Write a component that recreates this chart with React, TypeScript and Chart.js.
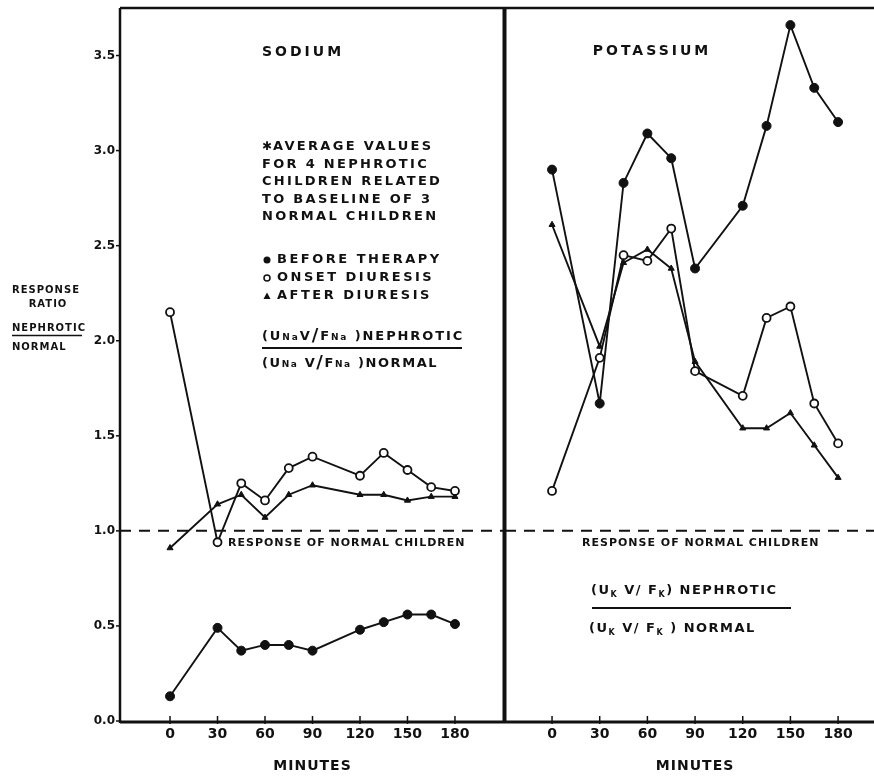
import React, { useEffect, useRef } from "react";
import { Chart, registerables } from "chart.js";

Chart.register(...registerables);

// ---- data ----
const minutes = [0, 30, 45, 60, 75, 90, 120, 135, 150, 165, 180];
const xTickValues = [0, 30, 60, 90, 120, 150, 180];
const yTickValues = [0, 0.5, 1, 1.5, 2, 2.5, 3, 3.5];
const normalResponse = 1.0;

const sodiumBefore = [0.13, 0.49, 0.37, 0.40, 0.40, 0.37, 0.48, 0.52, 0.56, 0.56, 0.51];
const sodiumOnset = [2.15, 0.94, 1.25, 1.16, 1.33, 1.39, 1.29, 1.41, 1.32, 1.23, 1.21];
const sodiumAfter = [0.91, 1.14, 1.19, 1.07, 1.19, 1.24, 1.19, 1.19, 1.16, 1.18, 1.18];

const potassiumBefore = [2.90, 1.67, 2.83, 3.09, 2.96, 2.38, 2.71, 3.13, 3.66, 3.33, 3.15];
const potassiumOnset = [1.21, 1.91, 2.45, 2.42, 2.59, 1.84, 1.71, 2.12, 2.18, 1.67, 1.46];
const potassiumAfter = [2.61, 1.97, 2.41, 2.48, 2.38, 1.89, 1.54, 1.54, 1.62, 1.45, 1.28];

const legendLabels = ["BEFORE THERAPY", "ONSET DIURESIS", "AFTER DIURESIS"];
const noteLines = ["AVERAGE VALUES", "FOR 4 NEPHROTIC", "CHILDREN RELATED", "TO BASELINE OF 3", "NORMAL CHILDREN"];

const INK = "#111";
const FONT = '"DejaVu Sans"';

type Seg = { t: string; size: number; dy?: number };

function txt(ctx: CanvasRenderingContext2D, s: string, x: number, y: number, size: number, spacing: number, align: CanvasTextAlign = "left") {
  ctx.font = `bold ${size}px ${FONT}`;
  (ctx as any).letterSpacing = spacing + "px";
  ctx.textAlign = align;
  ctx.textBaseline = "middle";
  ctx.fillText(s, x, y);
}

function rich(ctx: CanvasRenderingContext2D, segs: Seg[], x: number, yBase: number, spacing: number) {
  let cx = x;
  ctx.textAlign = "left";
  ctx.textBaseline = "alphabetic";
  (ctx as any).letterSpacing = spacing + "px";
  for (const s of segs) {
    ctx.font = `bold ${s.size}px ${FONT}`;
    ctx.fillText(s.t, cx, yBase + (s.dy || 0));
    cx += ctx.measureText(s.t).width;
  }
  return cx;
}

function hline(ctx: CanvasRenderingContext2D, x1: number, x2: number, y: number, w: number) {
  ctx.lineWidth = w;
  ctx.beginPath();
  ctx.moveTo(x1, y);
  ctx.lineTo(x2, y);
  ctx.stroke();
}
function vline(ctx: CanvasRenderingContext2D, x: number, y1: number, y2: number, w: number) {
  ctx.lineWidth = w;
  ctx.beginPath();
  ctx.moveTo(x, y1);
  ctx.lineTo(x, y2);
  ctx.stroke();
}

type Panel = {
  name: string;
  before: number[];
  onset: number[];
  after: number[];
  xMin: number;
  xMax: number;
  padding: { left: number; right: number; top: number; bottom: number };
  showY: boolean;
};

const sodiumPanel: Panel = {
  name: "SODIUM",
  before: sodiumBefore,
  onset: sodiumOnset,
  after: sodiumAfter,
  xMin: -31.6,
  xMax: 211.6,
  padding: { left: 0, right: 369, top: 8, bottom: 0 },
  showY: true,
};

const potassiumPanel: Panel = {
  name: "POTASSIUM",
  before: potassiumBefore,
  onset: potassiumOnset,
  after: potassiumAfter,
  xMin: -29.6,
  xMax: 202.6,
  padding: { left: 505, right: 0, top: 8, bottom: 0 },
  showY: false,
};

function framePlugin(p: Panel) {
  return {
    id: "frame",
    beforeDatasetsDraw(chart: any) {
      const { ctx, chartArea: a, scales } = chart;
      const y1 = scales.y.getPixelForValue(normalResponse);
      ctx.save();
      ctx.strokeStyle = INK;
      ctx.setLineDash([11, 8]);
      hline(ctx, a.left, a.right, y1, 2);
      ctx.restore();
    },
    afterDraw(chart: any) {
      const { ctx, chartArea: a, scales } = chart;
      const xs = scales.x;
      const ys = scales.y;
      ctx.save();
      ctx.strokeStyle = INK;
      ctx.fillStyle = INK;
      ctx.setLineDash([]);
      // frame
      hline(ctx, a.left, a.right, a.top, 2.5);
      hline(ctx, a.left, a.right, a.bottom + 1, 3);
      if (p.showY) {
        vline(ctx, a.left, a.top, a.bottom + 2, 2.5);
        vline(ctx, a.right - 0.5, a.top - 1, a.bottom + 2, 4);
        for (const t of yTickValues) {
          const y = ys.getPixelForValue(t);
          hline(ctx, a.left - 4, a.left, y, 1.5);
        }
      }
      for (const t of xTickValues) {
        const x = xs.getPixelForValue(t);
        vline(ctx, x, a.bottom - 5, a.bottom + 3, 1.5);
      }
      // x axis title
      const mid = (xs.getPixelForValue(xTickValues[0]) + xs.getPixelForValue(xTickValues[xTickValues.length - 1])) / 2;
      txt(ctx, "MINUTES", mid, 766, 14, 1, "center");

      if (p.showY) {
        txt(ctx, p.name, 303, 52, 14, 3, "center");
        // y-axis title
        txt(ctx, "RESPONSE", 46, 290, 10, 1, "center");
        txt(ctx, "RATIO", 48, 304, 10, 1, "center");
        txt(ctx, "NEPHROTIC", 12, 328, 10, 1, "left");
        hline(ctx, 12, 82, 335.5, 1.5);
        txt(ctx, "NORMAL", 12, 347, 10, 1, "left");
        // note block
        txt(ctx, "✱", 262, 147, 12, 0, "left");
        const noteY = [147, 164.5, 182, 199.5, 217];
        noteLines.forEach((s, i) => txt(ctx, s, i === 0 ? 273 : 262, noteY[i], 13, 2.3, "left"));
        // legend
        const legY = [260, 278, 296];
        ctx.beginPath();
        ctx.arc(267, legY[0], 3.5, 0, Math.PI * 2);
        ctx.fill();
        ctx.lineWidth = 1.5;
        ctx.beginPath();
        ctx.arc(267, legY[1], 3, 0, Math.PI * 2);
        ctx.stroke();
        ctx.beginPath();
        ctx.moveTo(263.5, legY[2] + 3);
        ctx.lineTo(270.5, legY[2] + 3);
        ctx.lineTo(267, legY[2] - 3.5);
        ctx.closePath();
        ctx.fill();
        legendLabels.forEach((s, i) => txt(ctx, s, 277, legY[i], 13, 2.5, "left"));
        // fraction
        const sub = 9;
        rich(ctx, [
          { t: "(U", size: 13 },
          { t: "Na", size: sub },
          { t: "V", size: 13 },
          { t: "/", size: 18, dy: 1 },
          { t: "F", size: 13 },
          { t: "Na", size: sub },
          { t: " )NEPHROTIC", size: 13 },
        ], 262, 340, 1.9);
        hline(ctx, 262, 462, 348, 2);
        rich(ctx, [
          { t: "(U", size: 13 },
          { t: "Na", size: sub },
          { t: " V", size: 13 },
          { t: "/", size: 18, dy: 1 },
          { t: "F", size: 13 },
          { t: "Na", size: sub },
          { t: " )NORMAL", size: 13 },
        ], 262, 367, 1.6);
        txt(ctx, "RESPONSE OF NORMAL CHILDREN", 228, 543, 11, 1, "left");
      } else {
        txt(ctx, p.name, 652, 51, 14, 3, "center");
        txt(ctx, "RESPONSE OF NORMAL CHILDREN", 582, 543, 11, 1, "left");
        rich(ctx, [
          { t: "(U", size: 13 },
          { t: "K", size: 8, dy: 3 },
          { t: " V/ F", size: 13 },
          { t: "K", size: 8, dy: 3 },
          { t: ") NEPHROTIC", size: 13 },
        ], 591, 594, 1.5);
        hline(ctx, 592, 791, 608, 2);
        rich(ctx, [
          { t: "(U", size: 13 },
          { t: "K", size: 8, dy: 3 },
          { t: " V/ F", size: 13 },
          { t: "K", size: 8, dy: 3 },
          { t: " ) NORMAL", size: 13 },
        ], 589, 632, 1.5);
      }
      ctx.restore();
    },
  };
}

function buildConfig(p: Panel): any {
  const ds = (label: string, values: number[], style: any) => ({
    label,
    data: minutes.map((m, i) => ({ x: m, y: values[i] })),
    borderColor: INK,
    borderWidth: 1.9,
    pointBorderColor: INK,
    tension: 0,
    ...style,
  });
  const yAxis: any = {
    type: "linear",
    min: 0,
    max: 3.75,
    display: p.showY,
    grid: { display: false, drawTicks: false },
    border: { display: false },
    afterBuildTicks: (s: any) => {
      s.ticks = yTickValues.map((v) => ({ value: v }));
    },
    afterFit: (s: any) => {
      if (p.showY) s.width = 120;
      s.paddingTop = 0;
      s.paddingBottom = 0;
    },
    ticks: {
      color: INK,
      font: { family: FONT, size: 12, weight: "bold" },
      padding: 5,
      callback: (v: any) => Number(v).toFixed(1),
    },
  };
  return {
    type: "line",
    data: {
      datasets: [
        ds(legendLabels[1], p.onset, { pointStyle: "circle", pointRadius: 4, pointBackgroundColor: "#fff", pointBorderWidth: 1.8 }),
        ds(legendLabels[0], p.before, { pointStyle: "circle", pointRadius: 4.5, pointBackgroundColor: INK, pointBorderWidth: 1 }),
        ds(legendLabels[2], p.after, { pointStyle: "triangle", pointRadius: 3.5, pointBackgroundColor: INK, pointBorderWidth: 1 }),
      ],
    },
    options: {
      responsive: false,
      animation: false,
      devicePixelRatio: 1,
      events: [],
      layout: { padding: p.padding, autoPadding: false },
      plugins: { legend: { display: false }, tooltip: { enabled: false }, title: { display: false } },
      scales: {
        x: {
          type: "linear",
          min: p.xMin,
          max: p.xMax,
          grid: { display: false, drawTicks: false },
          border: { display: false },
          afterBuildTicks: (s: any) => {
            s.ticks = xTickValues.map((v) => ({ value: v }));
          },
          afterFit: (s: any) => {
            s.height = 56;
            s.paddingLeft = 0;
            s.paddingRight = 0;
          },
          ticks: {
            color: INK,
            font: { family: FONT, size: 14, weight: "bold" },
            padding: 5,
            autoSkip: false,
            maxRotation: 0,
            callback: (v: any) => String(v),
          },
        },
        y: yAxis,
      },
    },
    plugins: [framePlugin(p)],
  };
}

export default function App() {
  const leftRef = useRef<HTMLCanvasElement>(null);
  const rightRef = useRef<HTMLCanvasElement>(null);
  useEffect(() => {
    const charts = [
      new Chart(leftRef.current as HTMLCanvasElement, buildConfig(sodiumPanel)),
      new Chart(rightRef.current as HTMLCanvasElement, buildConfig(potassiumPanel)),
    ];
    return () => charts.forEach((c) => c.destroy());
  }, []);
  return (
    <div style={{ position: "absolute", left: 0, top: 0, width: 874, height: 777, background: "#fff" }}>
      <canvas ref={leftRef} width={874} height={777} style={{ position: "absolute", left: 0, top: 0 }} />
      <canvas ref={rightRef} width={874} height={777} style={{ position: "absolute", left: 0, top: 0 }} />
    </div>
  );
}
